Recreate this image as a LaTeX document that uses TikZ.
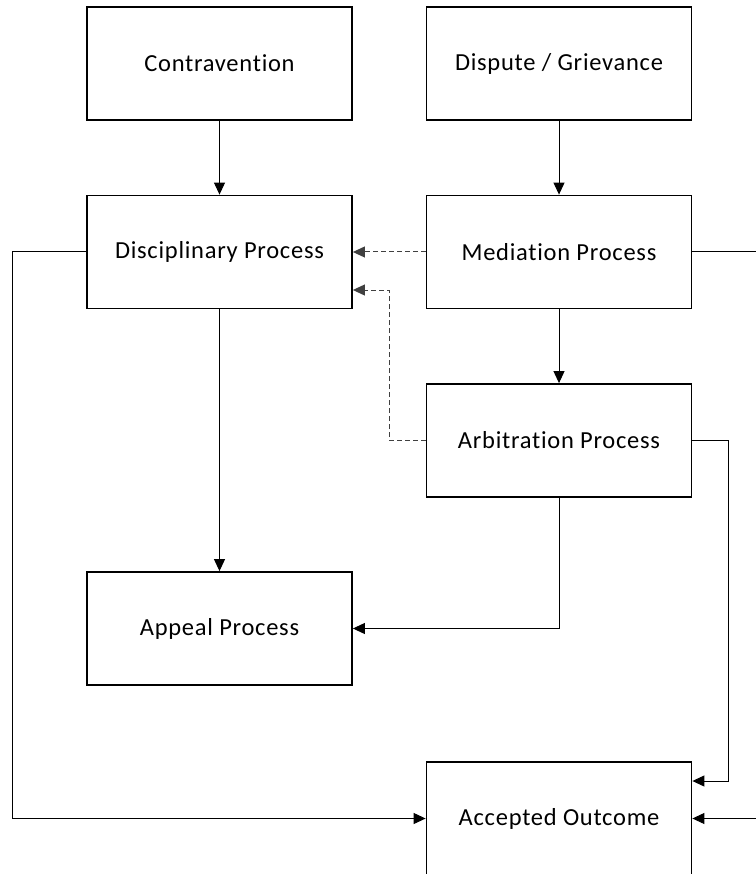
\documentclass[tikz,border=0pt]{standalone}
\usepackage{fontspec}
\setmainfont{Carlito}[Ligatures=NoCommon,LetterSpace=3]
\usetikzlibrary{arrows.meta,calc}
\begin{document}
\begin{tikzpicture}[x=1pt,y=-1pt,
  procbox/.style={draw=black,line width=1.8pt,fill=white,minimum width=265pt,minimum height=113pt,inner sep=0pt,font=\fontsize{24.5}{28}\selectfont},
  conn/.style={line width=1pt,-{Triangle[length=12pt,width=11pt]}},
  dconn/.style={conn,dash pattern=on 5pt off 3pt,draw=black!75}]
\useasboundingbox (0,0) rectangle (755,874);
\node[procbox] (contra) at (219.5,63.5) {Contravention};
\node[procbox] (disp) at (559,63.5) {Dispute / Grievance};
\node[procbox] (disc) at (219.5,252) {Disciplinary Process};
\node[procbox] (med) at (559,252) {Mediation Process};
\node[procbox] (arb) at (559,440.5) {Arbitration Process};
\node[procbox] (app) at (219.5,628.5) {Appeal Process};
\node[procbox] (acc) at (559,818.5) {Accepted Outcome};
\coordinate (k1) at (389,290);
\coordinate (k2) at (728,781);
\coordinate (k3) at (758,818.5);
\coordinate (k4) at (12,818.5);
\draw[conn] (contra.south) -- (disc.north);
\draw[conn] (disp.south) -- (med.north);
\draw[conn] (disc.south) -- (app.north);
\draw[conn] (med.south) -- (arb.north);
\draw[dconn] (med.west) -- (disc.east);
\draw[dconn] (arb.west) -| (k1) -- (disc.east |- k1);
\draw[conn] (arb.south) |- (app.east);
\draw[conn] (arb.east) -| (k2) -- (acc.east |- k2);
\draw[conn] (med.east) -| (k3) -- (acc.east);
\draw[conn] (disc.west) -| (k4) -- (acc.west);
\end{tikzpicture}
\end{document}
